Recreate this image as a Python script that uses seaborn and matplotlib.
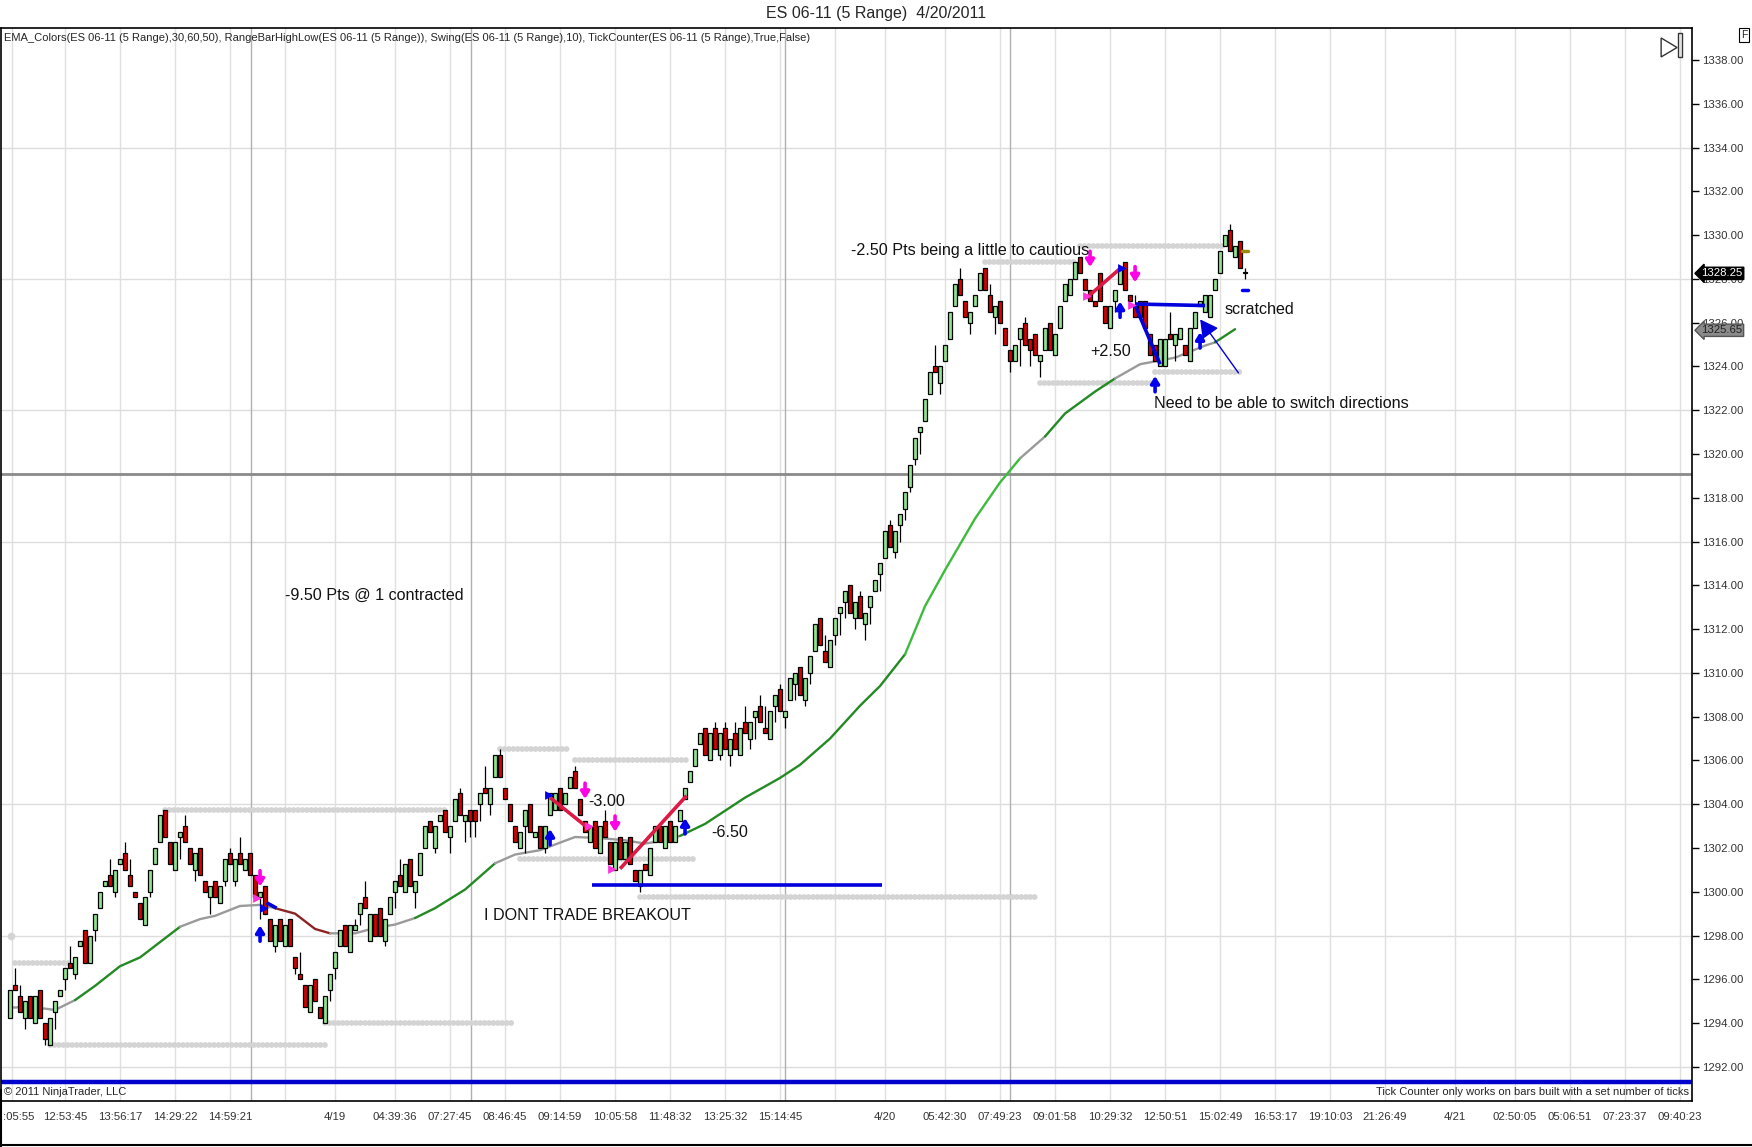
import numpy as np
import pandas as pd
import seaborn as sns
import matplotlib.pyplot as plt
import matplotlib.transforms as mtransforms
from matplotlib.patches import Polygon, Rectangle
from matplotlib.lines import Line2D

# ES 06-11, 5 range bars
opens = [
    1294.25, 1295.75, 1295.25, 1294.25, 1295.25, 1294.0, 1295.5, 1294.0, 1293.0, 1294.5,
    1295.25, 1296.0, 1296.75, 1296.25, 1297.5, 1298.25, 1296.75, 1298.25, 1299.25, 1300.25,
    1300.75, 1300.0, 1301.25, 1301.75, 1300.75, 1300.0, 1299.5, 1298.5, 1300.0, 1301.25,
    1302.25, 1303.75, 1302.25, 1301.0, 1302.5, 1303.0, 1302.0, 1301.0, 1302.0, 1300.5,
    1299.75, 1300.5, 1299.5, 1300.5, 1301.75, 1300.5, 1301.75, 1301.0, 1301.75, 1300.75,
    1299.75, 1300.25, 1298.75, 1297.5, 1298.75, 1297.5, 1298.75, 1297.0, 1296.25, 1295.75,
    1294.5, 1296.0, 1294.75, 1294.0, 1295.5, 1296.5, 1297.5, 1298.5, 1297.25, 1298.25,
    1299.0, 1299.75, 1297.75, 1299.0, 1299.25, 1297.75, 1299.0, 1300.0, 1300.75, 1300.0,
    1301.5, 1300.0, 1300.75, 1302.0, 1303.25, 1302.0, 1303.25, 1303.75, 1302.5, 1303.25,
    1304.5, 1303.25, 1303.75, 1303.75, 1304.0, 1304.75, 1304.0, 1305.25, 1306.25, 1304.75,
    1304.0, 1303.0, 1302.0, 1303.0, 1304.0, 1302.5, 1303.0, 1302.0, 1303.5, 1303.75,
    1304.75, 1304.0, 1304.75, 1305.5, 1304.25, 1303.25, 1302.25, 1303.25, 1301.75, 1303.25,
    1302.25, 1301.0, 1302.5, 1301.5, 1302.5, 1301.0, 1300.25, 1301.25, 1300.75, 1302.25,
    1303.0, 1302.0, 1303.25, 1302.25, 1303.25, 1304.25, 1305.0, 1305.75, 1306.75, 1307.5,
    1306.0, 1307.5, 1306.25, 1307.5, 1306.25, 1307.25, 1306.25, 1307.75, 1307.0, 1308.0,
    1308.5, 1307.5, 1307.0, 1308.5, 1309.25, 1308.0, 1308.75, 1309.5, 1310.25, 1308.75,
    1310.0, 1311.0, 1312.5, 1311.0, 1310.25, 1311.75, 1312.75, 1313.25, 1314.0, 1312.5,
    1313.5, 1312.25, 1313.0, 1313.75, 1314.5, 1315.25, 1316.75, 1315.5, 1316.75, 1317.5,
    1318.5, 1319.75, 1321.0, 1321.5, 1322.75, 1324.0, 1323.25, 1324.25, 1325.25, 1326.75,
    1328.0, 1327.0, 1326.0, 1326.75, 1327.5, 1328.5, 1327.25, 1326.25, 1327.0, 1325.75,
    1324.75, 1324.25, 1325.25, 1326.0, 1325.25, 1325.5, 1324.25, 1324.75, 1326.0, 1324.5,
    1325.75, 1327.0, 1327.25, 1328.0, 1329.0, 1328.0, 1327.5, 1327.0, 1328.25, 1326.75,
    1325.75, 1327.0, 1327.75, 1328.75, 1327.25, 1326.75, 1327.0, 1327.0, 1325.5, 1325.0,
    1324.0, 1324.0, 1325.5, 1325.0, 1325.25, 1325.0, 1324.25, 1325.75, 1326.75, 1326.5,
    1326.25, 1327.5, 1328.25, 1329.5, 1330.25, 1329.0, 1329.75, 1328.25,
]
closes = [
    1295.5, 1295.5, 1294.5, 1295.0, 1294.25, 1295.25, 1294.25, 1293.25, 1294.25, 1295.0,
    1295.5, 1296.5, 1296.5, 1297.0, 1297.75, 1296.75, 1298.0, 1299.0, 1300.0, 1300.5,
    1300.25, 1301.0, 1301.5, 1301.0, 1300.25, 1299.75, 1298.75, 1299.75, 1301.0, 1302.0,
    1303.5, 1302.5, 1301.25, 1302.25, 1302.75, 1302.25, 1301.25, 1301.75, 1300.75, 1300.0,
    1300.25, 1299.75, 1300.25, 1301.5, 1301.25, 1301.5, 1301.25, 1301.5, 1300.75, 1299.75,
    1300.0, 1299.0, 1297.75, 1298.5, 1297.75, 1298.5, 1297.5, 1296.5, 1296.0, 1294.75,
    1295.75, 1295.0, 1294.25, 1295.25, 1296.25, 1297.25, 1298.25, 1297.5, 1298.5, 1298.5,
    1299.5, 1299.25, 1299.0, 1298.0, 1298.0, 1298.75, 1299.75, 1300.5, 1300.25, 1301.25,
    1300.25, 1300.5, 1301.75, 1303.0, 1302.75, 1303.0, 1303.5, 1302.75, 1303.0, 1304.25,
    1303.5, 1303.5, 1303.25, 1303.25, 1304.5, 1304.5, 1304.75, 1306.25, 1305.25, 1304.25,
    1303.25, 1302.25, 1302.75, 1303.75, 1302.75, 1302.75, 1302.0, 1303.0, 1304.5, 1304.5,
    1303.75, 1304.5, 1305.25, 1304.75, 1303.5, 1302.75, 1303.0, 1302.0, 1303.0, 1302.5,
    1301.25, 1302.25, 1301.5, 1302.25, 1301.25, 1300.5, 1301.0, 1301.0, 1302.0, 1303.0,
    1302.25, 1303.0, 1302.25, 1303.0, 1303.75, 1304.75, 1305.5, 1306.5, 1307.25, 1306.25,
    1307.25, 1306.5, 1307.25, 1306.5, 1307.0, 1306.5, 1307.5, 1307.25, 1307.75, 1308.25,
    1307.75, 1307.25, 1308.25, 1309.0, 1308.25, 1308.25, 1309.75, 1310.0, 1309.0, 1309.75,
    1310.75, 1312.25, 1311.25, 1310.5, 1311.5, 1312.5, 1313.0, 1313.75, 1312.75, 1313.25,
    1312.5, 1312.75, 1313.5, 1314.25, 1315.0, 1316.5, 1315.75, 1316.5, 1317.25, 1318.25,
    1319.5, 1320.75, 1321.25, 1322.5, 1323.75, 1323.75, 1324.0, 1325.0, 1326.5, 1327.75,
    1327.25, 1326.25, 1326.5, 1327.25, 1328.25, 1327.5, 1326.5, 1326.75, 1326.0, 1325.0,
    1324.25, 1325.0, 1325.75, 1325.0, 1324.75, 1324.5, 1324.5, 1325.75, 1324.75, 1325.5,
    1326.75, 1327.75, 1328.0, 1328.75, 1328.25, 1327.5, 1327.0, 1326.75, 1327.0, 1326.0,
    1326.75, 1327.5, 1328.5, 1327.5, 1327.0, 1326.25, 1326.25, 1325.75, 1324.5, 1324.25,
    1325.25, 1325.25, 1325.25, 1325.5, 1325.75, 1324.5, 1325.75, 1326.5, 1327.0, 1327.25,
    1327.25, 1328.0, 1329.25, 1330.0, 1329.25, 1329.5, 1328.5, 1328.25,
]
highs = [
    1295.5, 1296.5, 1295.75, 1295.0, 1295.25, 1295.25, 1295.5, 1294.0, 1294.25, 1295.0,
    1295.5, 1296.5, 1297.5, 1297.0, 1297.75, 1298.25, 1298.0, 1299.0, 1300.0, 1300.5,
    1301.5, 1301.0, 1301.5, 1302.25, 1301.5, 1300.0, 1299.5, 1299.75, 1301.0, 1302.0,
    1303.5, 1303.75, 1302.25, 1302.25, 1302.75, 1303.5, 1302.0, 1301.75, 1302.0, 1300.5,
    1300.25, 1300.5, 1300.25, 1301.5, 1302.0, 1301.5, 1302.5, 1301.5, 1301.75, 1300.75,
    1300.0, 1300.25, 1298.75, 1298.5, 1298.75, 1298.5, 1298.75, 1297.0, 1297.25, 1295.75,
    1295.75, 1296.0, 1294.75, 1295.25, 1296.25, 1297.25, 1298.25, 1298.5, 1298.5, 1298.75,
    1299.5, 1300.5, 1299.0, 1299.0, 1299.25, 1298.75, 1299.75, 1300.5, 1301.5, 1301.25,
    1301.5, 1300.5, 1301.75, 1303.0, 1303.25, 1303.0, 1303.5, 1303.75, 1303.0, 1304.25,
    1304.75, 1303.5, 1303.75, 1303.75, 1304.5, 1305.75, 1304.75, 1306.25, 1306.5, 1304.75,
    1304.0, 1303.0, 1302.75, 1303.75, 1304.0, 1302.75, 1303.0, 1303.0, 1304.5, 1304.5,
    1304.75, 1304.5, 1305.25, 1305.75, 1304.25, 1303.25, 1303.0, 1303.25, 1303.0, 1303.75,
    1302.25, 1302.25, 1302.5, 1302.25, 1302.5, 1301.0, 1301.0, 1301.25, 1302.0, 1303.0,
    1303.0, 1303.0, 1303.25, 1303.0, 1303.75, 1304.75, 1305.5, 1306.5, 1307.25, 1307.5,
    1307.25, 1307.75, 1307.25, 1307.75, 1307.0, 1307.75, 1307.5, 1308.5, 1307.75, 1308.25,
    1309.0, 1308.5, 1308.25, 1309.0, 1309.5, 1308.25, 1309.75, 1310.0, 1310.25, 1309.75,
    1310.75, 1312.25, 1312.5, 1311.75, 1311.5, 1312.5, 1313.0, 1313.75, 1314.0, 1313.25,
    1313.75, 1312.75, 1313.5, 1314.25, 1315.0, 1316.5, 1317.0, 1316.5, 1317.25, 1318.25,
    1319.5, 1320.75, 1321.25, 1322.5, 1323.75, 1325.0, 1324.0, 1325.0, 1326.5, 1327.75,
    1328.5, 1327.0, 1326.5, 1327.25, 1328.25, 1328.5, 1327.75, 1326.75, 1327.0, 1325.75,
    1324.75, 1325.0, 1325.75, 1326.25, 1325.25, 1325.5, 1324.5, 1325.75, 1326.0, 1325.5,
    1326.75, 1327.75, 1328.0, 1328.75, 1329.0, 1328.0, 1327.5, 1327.0, 1328.25, 1326.75,
    1326.75, 1327.5, 1328.5, 1328.75, 1327.25, 1327.25, 1327.0, 1327.0, 1325.5, 1325.0,
    1325.25, 1325.25, 1326.5, 1325.5, 1325.75, 1325.0, 1325.75, 1326.5, 1327.0, 1327.25,
    1327.25, 1328.0, 1329.25, 1330.0, 1330.5, 1329.5, 1329.75, 1328.5,
]
lows = [
    1294.25, 1295.5, 1294.5, 1293.75, 1294.25, 1294.0, 1294.25, 1293.0, 1293.0, 1293.75,
    1295.25, 1295.5, 1296.5, 1296.0, 1297.5, 1296.75, 1296.75, 1297.75, 1299.25, 1300.25,
    1300.25, 1299.75, 1301.25, 1301.0, 1300.25, 1299.75, 1298.75, 1298.5, 1299.75, 1301.25,
    1302.25, 1302.5, 1301.25, 1301.0, 1301.5, 1302.25, 1301.25, 1300.5, 1300.75, 1300.0,
    1299.0, 1299.75, 1299.5, 1300.25, 1301.25, 1300.25, 1301.25, 1301.0, 1300.75, 1299.75,
    1298.75, 1299.0, 1297.75, 1297.25, 1297.75, 1297.5, 1297.5, 1296.25, 1296.0, 1294.75,
    1294.5, 1295.0, 1294.25, 1294.0, 1295.0, 1296.0, 1297.5, 1297.5, 1297.25, 1298.25,
    1298.5, 1299.25, 1297.75, 1298.0, 1298.0, 1297.5, 1299.0, 1299.25, 1300.25, 1300.0,
    1300.25, 1299.25, 1300.75, 1302.0, 1302.75, 1301.75, 1303.25, 1302.75, 1301.75, 1303.25,
    1303.5, 1302.25, 1302.5, 1302.5, 1303.25, 1304.5, 1303.5, 1305.25, 1305.25, 1304.25,
    1303.25, 1302.25, 1302.0, 1301.75, 1302.75, 1302.5, 1302.0, 1301.75, 1303.5, 1303.75,
    1303.75, 1304.0, 1304.75, 1304.75, 1303.5, 1302.75, 1302.25, 1302.0, 1301.75, 1302.5,
    1301.25, 1301.0, 1301.5, 1301.5, 1301.25, 1300.5, 1300.0, 1301.0, 1300.75, 1302.25,
    1302.25, 1302.0, 1302.25, 1302.25, 1303.25, 1304.25, 1305.0, 1305.75, 1306.75, 1306.25,
    1306.0, 1306.5, 1306.0, 1306.5, 1305.75, 1306.5, 1306.25, 1307.25, 1306.5, 1307.0,
    1307.75, 1307.25, 1307.0, 1307.75, 1308.25, 1307.5, 1308.75, 1308.75, 1309.0, 1308.5,
    1309.5, 1311.0, 1311.25, 1310.5, 1310.25, 1311.25, 1311.75, 1312.5, 1312.75, 1312.0,
    1312.5, 1311.5, 1312.25, 1313.75, 1313.75, 1315.25, 1315.75, 1315.25, 1316.0, 1317.0,
    1318.25, 1319.5, 1320.0, 1321.5, 1322.75, 1323.75, 1322.75, 1324.25, 1325.25, 1326.75,
    1327.25, 1326.25, 1325.5, 1326.75, 1327.5, 1327.5, 1326.5, 1325.5, 1326.0, 1325.0,
    1323.75, 1324.25, 1324.0, 1325.0, 1324.0, 1324.5, 1323.5, 1324.75, 1324.75, 1324.5,
    1325.75, 1327.0, 1327.25, 1328.0, 1328.25, 1327.5, 1327.0, 1326.75, 1327.0, 1326.0,
    1325.75, 1326.5, 1327.75, 1327.5, 1327.0, 1326.25, 1326.25, 1325.75, 1324.5, 1324.25,
    1324.0, 1324.0, 1325.25, 1324.25, 1325.25, 1324.5, 1324.25, 1325.75, 1326.75, 1326.5,
    1326.25, 1327.5, 1328.25, 1329.5, 1329.25, 1329.0, 1328.5, 1328.0,
]

# EMA line: bar number, value, and colour code of the piece that starts there
ema_bars = [1, 5, 10, 14, 18, 23, 27, 31, 35, 39, 42, 47, 51, 54, 58, 62, 65, 70, 74, 78,
            82, 86, 92, 98, 102, 107, 114, 119, 124, 128, 132, 135, 140, 144, 148, 155,
            159, 165, 171, 175, 180, 184, 188, 194, 199, 203, 208, 212, 218, 222, 227,
            234, 240, 242, 246]
ema_values = [1294.7, 1294.75, 1294.6, 1295.05, 1295.7, 1296.6, 1297.0, 1297.7, 1298.4,
              1298.75, 1298.9, 1299.35, 1299.4, 1299.25, 1299.0, 1298.3, 1298.1, 1298.1,
              1298.35, 1298.5, 1298.8, 1299.25, 1300.1, 1301.3, 1301.7, 1301.9, 1302.5,
              1302.45, 1302.35, 1302.2, 1302.35, 1302.55, 1303.1, 1303.7, 1304.3, 1305.2,
              1305.8, 1307.0, 1308.5, 1309.4, 1310.85, 1313.05, 1314.7, 1317.05, 1318.7,
              1319.8, 1320.8, 1321.85, 1322.85, 1323.45, 1324.1, 1324.4, 1324.95, 1325.1,
              1325.7]
ema_codes = ['g', 'g', 'g', 'G', 'G', 'G', 'G', 'G', 'g', 'g', 'g', 'g', 'g', 'R', 'R',
             'R', 'g', 'g', 'g', 'g', 'G', 'G', 'G', 'g', 'g', 'g', 'g', 'g', 'g', 'g',
             'g', 'G', 'G', 'G', 'G', 'G', 'G', 'G', 'G', 'G', 'L', 'L', 'L', 'L', 'L',
             'g', 'G', 'G', 'G', 'g', 'g', 'g', 'g', 'G']
ema_palette = {'g': '#9a9a9a', 'G': '#248a24', 'R': '#8c2323', 'L': '#3dbb3d'}

# swing high / low dotted levels: price, first bar, last bar
swing_prices = [1296.75, 1293.0, 1303.75, 1294.0, 1298.0, 1306.5, 1306.0, 1301.5,
                1299.75, 1328.75, 1329.5, 1323.25, 1323.75]
swing_first = [1, 8, 31, 63, 0.2, 98, 113, 102, 126, 195, 214, 206, 229]
swing_last = [12, 63, 87, 101, 0.2, 112, 136, 137, 205, 213, 243, 228.7, 246.6]

# drawn trade lines: from (bar, price) to (bar, price)
trade_x0 = [108, 122, 215.3, 225, 225, 116.4, 51.3]
trade_y0 = [1304.3, 1301.05, 1327.13, 1326.8, 1326.85, 1300.3, 1299.5]
trade_x1 = [116, 135.3, 222.3, 230, 239, 174.4, 53.3]
trade_y1 = [1302.84, 1304.39, 1328.53, 1324.1, 1326.78, 1300.3, 1299.25]
trade_colors = ['#dc1a46', '#dc1a46', '#dc1a46', '#0000dd', '#0000dd', '#0000dd', '#0000dd']

# swing signals
up_bars = [50, 108, 135, 222, 229, 238]
up_prices = [1298.1, 1302.5, 1303.0, 1326.6, 1323.2, 1325.2]
down_bars = [50, 115, 121, 216, 225]
down_prices = [1300.6, 1304.6, 1303.1, 1328.9, 1328.2]
pink_tri_bars = [49.3, 115.7, 120.3, 215.3, 224.3]
pink_tri_prices = [1299.7, 1303.0, 1301.05, 1327.2, 1326.8]
blue_tri_bars = [50.7, 107.7, 222.3]
blue_tri_prices = [1299.25, 1304.4, 1328.5]

notes = ['-2.50 Pts being a little to cautious', 'scratched', '+2.50',
         'Need to be able to switch directions', '-9.50 Pts @ 1 contracted', '-3.00',
         '-6.50', 'I DONT TRADE BREAKOUT']
note_bars = [168.2, 243, 216, 228.8, 55, 115.7, 140.3, 94.7]
note_prices = [1329.3, 1326.6, 1324.7, 1322.3, 1313.55, 1304.1, 1302.7, 1298.9]

tick_bars = [0.3, 11, 22, 33, 44, 55, 65, 77, 88, 99, 110, 121, 132, 143, 154, 165, 175,
             187, 198, 209, 220, 231, 242, 253, 264, 275, 289, 301, 312, 323, 334]
tick_labels = [':05:55', '12:53:45', '13:56:17', '14:29:22', '14:59:21', '', '4/19',
               '04:39:36', '07:27:45', '08:46:45', '09:14:59', '10:05:58', '11:48:32',
               '13:25:32', '15:14:45', '', '4/20', '05:42:30', '07:49:23', '09:01:58',
               '10:29:32', '12:50:51', '15:02:49', '16:53:17', '19:10:03', '21:26:49',
               '4/21', '02:50:05', '05:06:51', '07:23:37', '09:40:23']
session_breaks = [48.1, 92.1, 155, 200]

last_price = 1328.25
ema_last = 1325.65
level_line = 1319.1
bottom_line = 1291.3

sns.set_style("white")
plt.rcParams['font.family'] = ['Liberation Sans', 'DejaVu Sans']

bars = pd.DataFrame({'open': opens, 'high': highs, 'low': lows, 'close': closes})
bars['k'] = np.arange(len(bars))
bars['up'] = bars['close'] >= bars['open']

fig = plt.figure(figsize=(17.52, 11.47), dpi=100)
ax = fig.add_axes([0.0006, 0.0401, 0.9652, 0.9355])
ax.set_xlim(-1.8, 336.4)
ax.set_ylim(1290.44, 1339.46)

# grid
for p in np.arange(1292, 1335, 6):
    ax.axhline(p, color='#dddddd', lw=1, zorder=0)
for t in tick_bars:
    ax.axvline(t, color='#e0e0e0', lw=1, zorder=0)
for t in session_breaks:
    ax.axvline(t, color='#b0b0b0', lw=1, zorder=0)

ax.axhline(level_line, color='#8a8a8a', lw=2, zorder=1)
ax.axhline(bottom_line, color='#0000cc', lw=3.2, zorder=1)

# swing levels
for p, a, b in zip(swing_prices, swing_first, swing_last):
    if a == b:
        ax.scatter([a], [p], s=30, color='#d4d4d4', zorder=2, linewidths=0)
    else:
        ax.plot([a, b], [p, p], color='#d4d4d4', lw=4.2, ls=(0, (0.01, 0.75)),
                dash_capstyle='round', zorder=2)

# EMA
ema = pd.DataFrame({'k': np.array(ema_bars) - 1, 'v': ema_values})
start = 0
for j in range(1, len(ema_codes) + 1):
    if j == len(ema_codes) or ema_codes[j] != ema_codes[start]:
        seg = ema.iloc[start:j + 1]
        sns.lineplot(data=seg, x='k', y='v', color=ema_palette[ema_codes[start]],
                     lw=1.7, sort=False, estimator=None, ax=ax, zorder=3)
        start = j

# candles
ax.vlines(bars['k'], bars['low'], bars['high'], color='black', lw=0.9, zorder=4)
body_lo = bars[['open', 'close']].min(axis=1)
body_h = (bars['close'] - bars['open']).abs().clip(lower=0.06)
body_col = np.where(bars['up'], '#90e490', '#d60000')
ax.bar(bars['k'], body_h, bottom=body_lo, width=0.8, color=body_col,
       edgecolor='black', linewidth=0.9, zorder=5)

# trade lines
for x0, y0, x1, y1, c in zip(trade_x0, trade_y0, trade_x1, trade_y1, trade_colors):
    ax.plot([x0, x1], [y0, y1], color=c, lw=2.6, zorder=6, solid_capstyle='butt')
ax.annotate('', xy=(237.7, 1326.25), xytext=(246, 1323.6),
            arrowprops=dict(arrowstyle='-|>,head_length=1.1,head_width=0.6',
                            color='#0000dd', lw=1), zorder=6)

# signals
for k, p in zip(up_bars, up_prices):
    ax.annotate('', xy=(k, p + 0.36), xytext=(k, p - 0.36),
                arrowprops=dict(arrowstyle='-|>,head_length=0.4,head_width=0.25',
                                color='#0000ee', lw=2.6, shrinkA=0, shrinkB=0), zorder=7)
for k, p in zip(down_bars, down_prices):
    ax.annotate('', xy=(k, p - 0.36), xytext=(k, p + 0.36),
                arrowprops=dict(arrowstyle='-|>,head_length=0.4,head_width=0.25',
                                color='#ff00e6', lw=2.6, shrinkA=0, shrinkB=0), zorder=7)
sns.scatterplot(x=pink_tri_bars, y=pink_tri_prices, marker='>', s=40, color='#ff33dd',
                linewidth=0, ax=ax, zorder=7)
sns.scatterplot(x=blue_tri_bars, y=blue_tri_prices, marker='>', s=40, color='#0000ee',
                linewidth=0, ax=ax, zorder=7)
ax.plot([246.4, 247.6], [1327.5, 1327.5], color='#0000ee', lw=2.5, zorder=7)
ax.plot([246.4, 247.6], [1329.25, 1329.25], color='#9a8a10', lw=2.5, zorder=7)

# notes
for s, k, p in zip(notes, note_bars, note_prices):
    ax.text(k, p, s, fontsize=11.6, ha='left', va='center', color='#111111', zorder=8)

# axes styling
ax.set_xlabel('')
ax.set_ylabel('')
ax.yaxis.tick_right()
ax.set_yticks(np.arange(1292, 1339, 2))
ax.set_yticklabels([f'{v:.2f}' for v in np.arange(1292, 1339, 2)])
ax.set_xticks(tick_bars)
ax.set_xticklabels(tick_labels)
ax.tick_params(axis='both', direction='out', length=5, width=1, colors='black',
               labelsize=8.2, labelcolor='#333333')
ax.tick_params(axis='y', pad=2)
ax.tick_params(axis='x', pad=3)
first = ax.get_xticklabels()[0]
first.set_horizontalalignment('left')
first.set_transform(first.get_transform() +
                    mtransforms.ScaledTranslation(-6 / 72, 0, fig.dpi_scale_trans))
for sp in ax.spines.values():
    sp.set_visible(True)
    sp.set_color('black')
    sp.set_linewidth(1.2)

ax.text(0.002, 0.9905, 'EMA_Colors(ES 06-11 (5 Range),30,60,50), RangeBarHighLow(ES 06-11 (5 Range)), '
        'Swing(ES 06-11 (5 Range),10), TickCounter(ES 06-11 (5 Range),True,False)',
        transform=ax.transAxes, fontsize=8, ha='left', va='center')
ax.text(0.002, 0.004, '\u00a9 2011 NinjaTrader, LLC', transform=ax.transAxes,
        fontsize=8, ha='left', va='bottom')
ax.text(0.998, 0.004, 'Tick Counter only works on bars built with a set number of ticks',
        transform=ax.transAxes, fontsize=8, ha='right', va='bottom')
fig.text(0.5, 0.988, 'ES 06-11 (5 Range)  4/20/2011', fontsize=11.5, ha='center', va='center')

# price tags on the axis
trans = mtransforms.blended_transform_factory(ax.transAxes, ax.transData)
ax.text(1.0055, last_price, f'{last_price:.2f}', transform=trans, fontsize=8.2, color='white',
        ha='left', va='center', clip_on=False, zorder=10,
        bbox=dict(boxstyle='larrow,pad=0.1', fc='black', ec='black'))
ax.text(1.0055, ema_last, f'{ema_last:.2f}', transform=trans, fontsize=8.2, color='#222222',
        ha='left', va='center', clip_on=False, zorder=10,
        bbox=dict(boxstyle='larrow,pad=0.1', fc='#8a8a8a', ec='#555555'))

# little chart-control glyphs
ax.add_patch(Polygon([(0.9817, 0.9907), (0.9817, 0.9730), (0.9911, 0.9818)], closed=True,
                     fill=False, ec='#333333', lw=1, transform=ax.transAxes, zorder=9))
ax.add_patch(Rectangle((0.9917, 0.9730), 0.0024, 0.0224, fill=False, ec='#333333', lw=1,
                       transform=ax.transAxes, zorder=9))
fig.text(0.9955, 0.9695, 'F', fontsize=7.5, ha='center', va='center',
         bbox=dict(boxstyle='square,pad=0.2', fc='white', ec='black', lw=0.8))
fig.add_artist(Line2D([0, 1], [0.0015, 0.0015], color='black', lw=1.5))
fig.add_artist(Line2D([0.0006, 0.0006], [0, 0.05], color='black', lw=1.5))

fig.savefig('out.png', dpi=100)
